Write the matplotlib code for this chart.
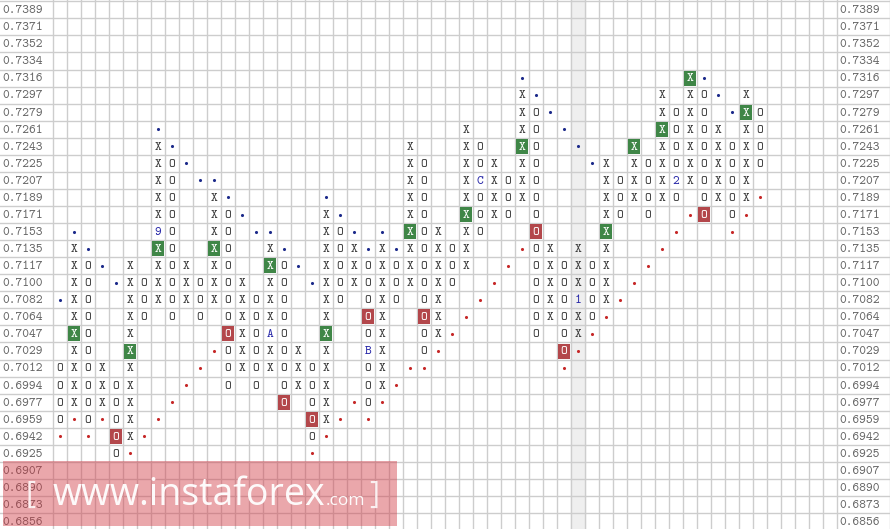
"""
Point & figure chart, 0.7389 .. 0.6856 box grid, with trend-line dots,
highlighted signal boxes and the instaforex watermark.
"""
import matplotlib
matplotlib.use("Agg")
import matplotlib.pyplot as plt
from matplotlib.patches import Rectangle

# --------------------------------------------------------------------------- #
# Data
# --------------------------------------------------------------------------- #
PRICES = [0.7389, 0.7371, 0.7352, 0.7334, 0.7316, 0.7297, 0.7279, 0.7261,
          0.7243, 0.7225, 0.7207, 0.7189, 0.7171, 0.7153, 0.7135, 0.7117,
          0.7100, 0.7082, 0.7064, 0.7047, 0.7029, 0.7012, 0.6994, 0.6977,
          0.6959, 0.6942, 0.6925, 0.6907, 0.6890, 0.6873, 0.6856]
N_COLS = 56

COL_KIND = list("OXOXOXOXOXOXOXOXOXOXOXOXOXOXOXOXOXOXOXOXOXOXOXOXOXO")
COL_HIGH = [0.7012, 0.7135, 0.7117, 0.7012, 0.6994, 0.7117, 0.7100, 0.7243,
            0.7225, 0.7117, 0.7100, 0.7189, 0.7171, 0.7100, 0.7082, 0.7135,
            0.7117, 0.7029, 0.7012, 0.7171, 0.7153, 0.7135, 0.7117, 0.7135,
            0.7117, 0.7243, 0.7225, 0.7153, 0.7135, 0.7261, 0.7243, 0.7225,
            0.7207, 0.7297, 0.7279, 0.7135, 0.7117, 0.7135, 0.7117, 0.7225,
            0.7207, 0.7243, 0.7225, 0.7297, 0.7279, 0.7316, 0.7297, 0.7261,
            0.7243, 0.7297, 0.7279]
COL_LOW = [0.6959, 0.6977, 0.6959, 0.6977, 0.6925, 0.6942, 0.7064, 0.7082,
           0.7064, 0.7082, 0.7064, 0.7082, 0.6994, 0.7012, 0.6994, 0.7012,
           0.6977, 0.6994, 0.6942, 0.6959, 0.7082, 0.7100, 0.6977, 0.6994,
           0.7082, 0.7100, 0.7029, 0.7047, 0.7100, 0.7117, 0.7153, 0.7171,
           0.7171, 0.7189, 0.7047, 0.7064, 0.7029, 0.7047, 0.7064, 0.7082,
           0.7171, 0.7189, 0.7171, 0.7189, 0.7189, 0.7207, 0.7171, 0.7189,
           0.7171, 0.7189, 0.7225]

GREEN_X = [(1, 0.7047), (5, 0.7029), (7, 0.7135), (11, 0.7135), (15, 0.7117),
           (19, 0.7047), (25, 0.7153), (29, 0.7171), (33, 0.7243), (39, 0.7153),
           (41, 0.7243), (43, 0.7261), (45, 0.7316), (49, 0.7279)]
RED_O = [(4, 0.6942), (12, 0.7047), (16, 0.6977), (18, 0.6959), (22, 0.7064),
         (26, 0.7064), (34, 0.7153), (36, 0.7029), (46, 0.7171)]
LETTERS = [(7, 0.7153, "9"), (15, 0.7047, "A"), (22, 0.7029, "B"),
           (30, 0.7207, "C"), (37, 0.7082, "1"), (44, 0.7207, "2")]

BLUE_DOTS = [(0, 0.7082), (1, 0.7153), (2, 0.7135), (3, 0.7117), (4, 0.7100),
             (7, 0.7261), (8, 0.7243), (9, 0.7225), (10, 0.7207), (11, 0.7207),
             (12, 0.7189), (13, 0.7171), (14, 0.7153), (15, 0.7153), (16, 0.7135),
             (17, 0.7117), (18, 0.7100), (19, 0.7189), (20, 0.7171), (21, 0.7153),
             (22, 0.7135), (23, 0.7153), (24, 0.7135), (33, 0.7316), (34, 0.7297),
             (35, 0.7279), (36, 0.7261), (37, 0.7243), (38, 0.7225), (46, 0.7316),
             (47, 0.7297), (48, 0.7279)]
RED_DOTS = [(0, 0.6942), (1, 0.6959), (2, 0.6942), (3, 0.6959), (5, 0.6925),
            (6, 0.6942), (7, 0.6959), (8, 0.6977), (9, 0.6994), (10, 0.7012),
            (11, 0.7029), (18, 0.6925), (19, 0.6942), (20, 0.6959), (21, 0.6977),
            (22, 0.6959), (23, 0.6977), (24, 0.6994), (25, 0.7012), (26, 0.7012),
            (27, 0.7029), (28, 0.7047), (29, 0.7064), (30, 0.7082), (31, 0.7100),
            (32, 0.7117), (33, 0.7135), (36, 0.7012), (37, 0.7029), (38, 0.7047),
            (39, 0.7064), (40, 0.7082), (41, 0.7100), (42, 0.7117), (43, 0.7135),
            (44, 0.7153), (45, 0.7171), (48, 0.7153), (49, 0.7171), (50, 0.7189)]

CURRENT_COL = 37          # shaded column

# --------------------------------------------------------------------------- #
# Style
# --------------------------------------------------------------------------- #
GRID = "#cdcdcd"
SHADE = "#efefef"
GREEN = "#3f8647"
RED = "#b3474b"
SYM = "#3a3a3a"
LABEL = "#666666"
LETTER = "#2828a8"
BLUE_DOT = "#1c2a8a"
RED_DOT = "#c62828"
MONO = ["cmtt10", "Liberation Mono", "DejaVu Sans Mono"]
FS = 9.3

# pixel geometry of the reference: 53px label columns, 14x17.06px boxes
LABEL_W = 53 / 14
ROW_TOP = -0.5 - 1.3 / 17.06


def row(price):
    return PRICES.index(price)


def draw(ax):
    n_rows = len(PRICES)
    x_lo, x_hi = -0.5 - LABEL_W, N_COLS - 0.5 + LABEL_W
    ax.set_xlim(x_lo, x_hi)
    ax.set_ylim(ROW_TOP + 529 / 17.06, ROW_TOP)
    ax.axis("off")

    ax.axvspan(CURRENT_COL - 0.5, CURRENT_COL + 0.5, color=SHADE, zorder=0)

    for r in range(-1, n_rows):
        ax.axhline(r + 0.5, color=GRID, lw=1.0, zorder=1)
    for c in range(N_COLS + 1):
        ax.axvline(c - 0.5, color=GRID, lw=1.0, zorder=1)
    ax.axvline(x_hi - 0.02, color=GRID, lw=1.0, zorder=1)

    for r, p in enumerate(PRICES):
        for x in (x_lo + 0.2, N_COLS - 0.5 + 0.2):
            ax.text(x, r + 0.05, f"{p:.4f}", ha="left", va="center", fontsize=FS,
                    family=MONO, color=LABEL, zorder=3)

    green = set(GREEN_X)
    red = set(RED_O)
    letters = {(c, p): ch for c, p, ch in LETTERS}
    for c, (kind, hi, lo) in enumerate(zip(COL_KIND, COL_HIGH, COL_LOW)):
        for r in range(row(hi), row(lo) + 1):
            key = (c, PRICES[r])
            color = SYM
            txt = kind
            if key in green or key in red:
                ax.add_patch(Rectangle((c - 0.43, r - 0.44), 0.86, 0.88,
                                       color=GREEN if key in green else RED,
                                       lw=0, zorder=2))
                color = "white"
            if key in letters:
                txt, color = letters[key], LETTER
            ax.text(c, r + 0.05, txt, ha="center", va="center", fontsize=FS,
                    family=MONO, color=color, zorder=3)

    ax.scatter([c for c, _ in BLUE_DOTS], [row(p) for _, p in BLUE_DOTS],
               s=5, color=BLUE_DOT, lw=0, zorder=3)
    ax.scatter([c for c, _ in RED_DOTS], [row(p) for _, p in RED_DOTS],
               s=5, color=RED_DOT, lw=0, zorder=3)


def watermark(fig):
    W, H = 890, 529
    fig.patches.append(Rectangle((3 / W, 1 - 526 / H), 394 / W, 65 / H,
                                 transform=fig.transFigure, color="#d23c46",
                                 alpha=0.45, lw=0, zorder=5))
    base = 1 - 505 / H
    kw = dict(color="white", family="Open Sans", zorder=6, va="baseline")
    fig.text(26 / W, base + 2 / H, "[", fontsize=22, alpha=0.85, **kw)
    main = fig.text(53 / W, base, "www.instaforex", fontsize=27, alpha=0.95, **kw)
    # put ".com" right after the main word
    r = fig.canvas.get_renderer()
    x1 = main.get_window_extent(r).x1 / W
    fig.text(x1, base, ".com", fontsize=12.5, alpha=0.95, **kw)
    fig.text(369 / W, base + 2 / H, "]", fontsize=22, alpha=0.85, **kw)


def main():
    fig = plt.figure(figsize=(8.9, 5.29), dpi=100)
    ax = fig.add_axes([0, 0, 1, 1])
    draw(ax)
    watermark(fig)
    fig.savefig("out.png", dpi=100, facecolor="white")


if __name__ == "__main__":
    main()
